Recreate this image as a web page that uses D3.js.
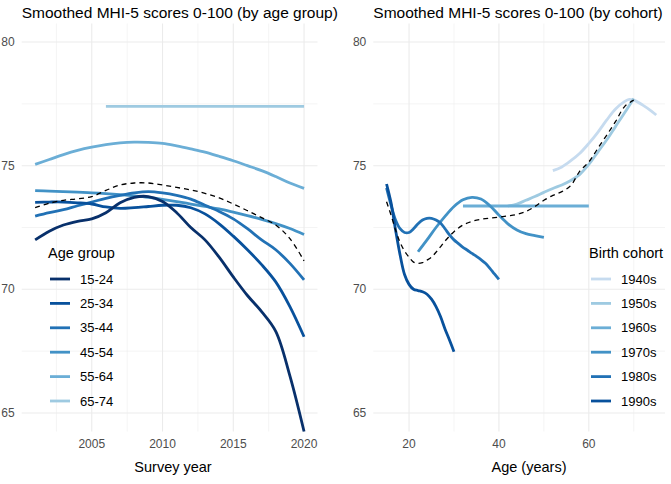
<!DOCTYPE html>
<html><head><meta charset="utf-8">
<script src="https://cdn.jsdelivr.net/npm/d3@7"></script>
<style>body{margin:0;background:#fff}text{font-family:"Liberation Sans",Arial,sans-serif}</style>
</head><body><svg id="c" width="671" height="484"></svg>
<script>
// ---------- data ----------
const years = [2001,2002,2003,2004,2005,2006,2007,2008,2009,2010,2011,2012,2013,2014,2015,2016,2017,2018,2019,2020];
const ageGroups = ["15-24","25-34","35-44","45-54","55-64","65-74"];
const ageColors = ["#08306b","#08519c","#2171b5","#4292c6","#6baed6","#9ecae1"];
const age15_24 = [72.0,72.35,72.6,72.75,72.85,73.1,73.5,73.72,73.75,73.55,73.1,72.5,72.0,71.3,70.5,69.75,69.1,68.3,66.5,64.25];
const age25_34 = [73.52,73.53,73.53,73.5,73.45,73.33,73.27,73.3,73.35,73.4,73.4,73.3,73.05,72.65,72.15,71.6,71.0,70.3,69.3,68.08];
const age35_44 = [72.96,73.1,73.22,73.38,73.53,73.68,73.8,73.9,73.95,73.9,73.8,73.65,73.4,73.15,72.85,72.45,72.0,71.6,71.05,70.38];
const age45_54 = [73.99,73.97,73.95,73.93,73.9,73.87,73.83,73.78,73.72,73.64,73.55,73.45,73.35,73.25,73.12,72.98,72.83,72.66,72.46,72.22];
const age55_64 = [75.05,75.25,75.45,75.62,75.75,75.85,75.92,75.95,75.94,75.9,75.8,75.68,75.55,75.38,75.2,75.0,74.8,74.56,74.3,74.08];
const age65_74_years = [2006,2020];
const age65_74 = [77.4,77.4];
const yearOverall = [73.3,73.48,73.6,73.66,73.75,74.0,74.22,74.3,74.3,74.22,74.12,74.02,73.88,73.7,73.45,73.18,72.9,72.6,72.05,71.15];

const cohorts = ["1940s","1950s","1960s","1970s","1980s","1990s"];
const cohortColors = ["#c6dbef","#9ecae1","#6baed6","#4292c6","#2171b5","#08519c"];
const c1940_age = [52,54,56,58,60,62,64,66,68,69,70,72,74,75];
const c1940 = [74.8,74.95,75.2,75.5,75.9,76.35,76.85,77.3,77.6,77.68,77.65,77.45,77.2,77.05];
const c1950_age = [42,44,46,48,50,52,54,56,58,60,62,64,66,68,70];
const c1950 = [73.37,73.45,73.6,73.75,73.92,74.08,74.22,74.4,74.65,75.05,75.55,76.05,76.6,77.15,77.72];
const c1960_age = [32,60];
const c1960 = [73.37,73.37];
const c1970_age = [22,24,26,28,30,32,34,36,38,40,42,44,46,48,50];
const c1970 = [71.52,72.0,72.5,72.95,73.35,73.62,73.72,73.65,73.38,73.0,72.65,72.4,72.25,72.17,72.1];
const c1980_age = [15,16,17,18,19,20,21,22,23,24,25,26,27,28,29,30,31,32,33,34,35,36,37,38,39,40];
const c1980 = [74.1,73.4,72.8,72.45,72.3,72.3,72.45,72.65,72.8,72.87,72.87,72.8,72.68,72.45,72.2,72.0,71.85,71.7,71.58,71.45,71.33,71.2,71.05,70.85,70.62,70.4];
const c1990_age = [15,16,17,18,19,20,21,22,23,24,25,26,27,28,29,30];
const c1990 = [74.26,73.5,72.4,71.4,70.6,70.2,70.0,69.95,69.9,69.8,69.6,69.3,68.9,68.4,67.95,67.48];
const ageOverall_age = [15,16,17,18,19,20,21,22,23,24,25,26,27,28,29,30,32,34,36,38,40,42,44,46,48,50,52,54,56,58,60,62,64,66,68,70];
const ageOverall = [73.54,73.0,72.4,71.9,71.55,71.3,71.1,71.05,71.08,71.18,71.3,71.5,71.72,71.95,72.15,72.33,72.6,72.75,72.83,72.88,72.92,72.97,73.03,73.15,73.35,73.6,73.8,73.95,74.2,74.78,75.15,75.7,76.24,76.8,77.4,77.65];

const yTicks = [65,70,75,80];
const yMinor = [67.5,72.5,77.5];

// ---------- drawing ----------
const svg = d3.select("#c");
const y = d3.scaleLinear().domain([64.25,80.75]).range([431.5,23.5]);
const line = (xs) => d3.line().x((d,i)=>xs(d[0])).y(d=>y(d[1])).curve(d3.curveCatmullRom.alpha(0.5));

function panel(o){
  const g = svg.append("g");
  const x = o.x;
  const [x0,x1] = x.range();
  g.selectAll(".hm").data(yMinor).join("line").attr("x1",x0).attr("x2",x1).attr("y1",d=>y(d)).attr("y2",d=>y(d)).attr("stroke","#ebebeb").attr("stroke-width",0.55);
  g.selectAll(".vm").data(o.xMinor).join("line").attr("x1",d=>x(d)).attr("x2",d=>x(d)).attr("y1",23.5).attr("y2",431.5).attr("stroke","#ebebeb").attr("stroke-width",0.55);
  g.selectAll(".hM").data(yTicks).join("line").attr("x1",x0).attr("x2",x1).attr("y1",d=>y(d)).attr("y2",d=>y(d)).attr("stroke","#ebebeb").attr("stroke-width",1.1);
  g.selectAll(".vM").data(o.xTicks).join("line").attr("x1",d=>x(d)).attr("x2",d=>x(d)).attr("y1",23.5).attr("y2",431.5).attr("stroke","#ebebeb").attr("stroke-width",1.1);
  g.selectAll(".yl").data(yTicks).join("text").attr("x",x0-7).attr("y",d=>y(d)+4).attr("text-anchor","end").attr("font-size",12).attr("fill","#4d4d4d").text(d=>d);
  g.selectAll(".xl").data(o.xTicks).join("text").attr("x",d=>x(d)).attr("y",448).attr("text-anchor","middle").attr("font-size",12).attr("fill","#4d4d4d").text(d=>d);
  g.append("text").attr("x",o.xTitleX).attr("y",472).attr("text-anchor","middle").attr("font-size",14.5).attr("fill","#000").text(o.xTitle);
  g.append("text").attr("x",x0).attr("y",18).attr("font-size",15.5).attr("fill","#000").text(o.title);
  o.series.forEach((s,i)=>{
    const pts = s.xs.map((v,j)=>[v,s.ys[j]]);
    g.append("path").attr("d",line(x)(pts)).attr("fill","none").attr("stroke",o.colors[i]).attr("stroke-width",2.8);
  });
  const op = o.overall.xs.map((v,j)=>[v,o.overall.ys[j]]);
  g.append("path").attr("d",line(x)(op)).attr("fill","none").attr("stroke","#000").attr("stroke-width",1.3).attr("stroke-dasharray","5,4");
  const lg = g.append("g").attr("transform",`translate(${o.legX},0)`);
  lg.append("text").attr("x",0).attr("y",258).attr("font-size",14.5).attr("fill","#000").text(o.legTitle);
  o.names.forEach((n,i)=>{
    const cy = 279 + i*24.4;
    lg.append("line").attr("x1",2).attr("x2",22).attr("y1",cy).attr("y2",cy).attr("stroke",o.legColors[i]).attr("stroke-width",2.8);
    lg.append("text").attr("x",32).attr("y",cy+4.5).attr("font-size",13).attr("fill","#000").text(n);
  });
}

const xYear = d3.scaleLinear().domain([2000.05,2020.95]).range([21.7,317.5]);
panel({
  x:xYear, xTicks:[2005,2010,2015,2020], xMinor:[2002.5,2007.5,2012.5,2017.5],
  xTitle:"Survey year", xTitleX:173, title:"Smoothed MHI-5 scores 0-100 (by age group)",
  series:[
    {xs:years,ys:age15_24},{xs:years,ys:age25_34},{xs:years,ys:age35_44},
    {xs:years,ys:age45_54},{xs:years,ys:age55_64},{xs:age65_74_years,ys:age65_74}
  ].reverse(),
  colors: ageColors.slice().reverse(),
  overall:{xs:years,ys:yearOverall},
  legX:48, legTitle:"Age group", names:ageGroups, legColors:ageColors
});

const xAge = d3.scaleLinear().domain([12.05,76.95]).range([373.3,665]);
panel({
  x:xAge, xTicks:[20,40,60], xMinor:[30,50,70],
  xTitle:"Age (years)", xTitleX:529, title:"Smoothed MHI-5 scores 0-100 (by cohort)",
  series:[
    {xs:c1940_age,ys:c1940},{xs:c1950_age,ys:c1950},{xs:c1960_age,ys:c1960},
    {xs:c1970_age,ys:c1970},{xs:c1980_age,ys:c1980},{xs:c1990_age,ys:c1990}
  ],
  colors: cohortColors,
  overall:{xs:ageOverall_age,ys:ageOverall},
  legX:589, legTitle:"Birth cohort", names:cohorts, legColors:cohortColors
});
</script></body></html>
